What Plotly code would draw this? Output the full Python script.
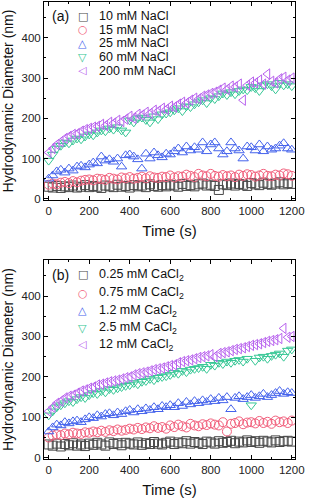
import plotly.graph_objects as go

time_s = [0, 20, 40, 60, 80, 100, 120, 140, 160, 180,
          200, 220, 240, 260, 280, 300, 320, 340, 360, 380,
          400, 420, 440, 460, 480, 500, 520, 540, 560, 580,
          600, 620, 640, 660, 680, 700, 720, 740, 760, 780,
          800, 820, 840, 860, 880, 900, 920, 940, 960, 980,
          1000, 1020, 1040, 1060, 1080, 1100, 1120, 1140, 1160, 1180,
          1200]

# Panel (a): NaCl
nacl_10 = [30, 28, 32, 27, 31, 29, 33, 28, 30, 34,
           29, 32, 30, 27, 33, 31, 29, 35, 30, 32,
           28, 34, 31, 33, 29, 36, 32, 30, 34, 31,
           35, 33, 30, 37, 32, 34, 31, 36, 38, 33,
           35, 32, 22, 36, 34, 38, 33, 37, 35, 32,
           39, 36, 34, 40, 37, 35, 38, 41, 36, 39,
           37]
nacl_15 = [35, 38, 36, 40, 42, 39, 44, 41, 45, 47,
           48, 46, 50, 49, 47, 52, 50, 48, 53, 51,
           54, 50, 52, 55, 51, 56, 53, 52, 55, 54,
           58, 53, 56, 55, 60, 57, 54, 62, 58, 56,
           62, 57, 55, 59, 56, 58, 54, 60, 57, 61,
           59, 55, 58, 62, 57, 56, 60, 58, 63, 61,
           57]
nacl_25 = [50, 58, 68, 72, 65, 75, 70, 80, 82, 78,
           85, 90, 88, 105, 95, 98, 92, 100, 80, 108,
           110, 105, 98, 75, 112, 100, 115, 108, 103, 112,
           110, 118, 125, 115, 130, 120, 128, 122, 140, 118,
           135, 140, 125, 110, 118, 140, 125, 120, 100, 130,
           128, 120, 135, 118, 130, 122, 125, 132, 138, 125,
           122]
nacl_60 = [95, 110, 125, 132, 140, 138, 145, 150, 148, 155,
           160, 158, 165, 170, 168, 175, 172, 178, 170, 165,
           195, 190, 200, 202, 196, 190, 205, 198, 210, 212,
           215, 220, 225, 218, 230, 228, 235, 240, 245, 238,
           250, 248, 255, 262, 258, 265, 260, 268, 272, 270,
           278, 275, 268, 282, 285, 280, 272, 288, 282, 285,
           280]
nacl_200 = [115, 125, 135, 142, 150, 155, 160, 162, 168, 172,
            175, 178, 180, 185, 182, 190, 188, 195, 192, 198,
            205, 200, 210, 208, 215, 212, 220, 218, 225, 222,
            230, 228, 235, 240, 238, 245, 250, 248, 255, 258,
            262, 265, 270, 275, 272, 280, 278, 285, 245, 282,
            290, 288, 295, 285, 310, 292, 288, 298, 302, 295,
            300]

# Panel (b): CaCl2
cacl_025 = [33, 30, 35, 28, 34, 31, 36, 30, 33, 29,
            35, 32, 37, 33, 30, 38, 34, 36, 31, 37,
            35, 33, 38, 32, 36, 34, 39, 35, 33, 37,
            40, 34, 38, 36, 41, 35, 39, 37, 34, 40,
            38, 35, 41, 37, 39, 42, 36, 40, 38, 43,
            39, 41, 37, 42, 40, 38, 43, 39, 41, 42,
            40]
cacl_075 = [50, 55, 58, 56, 60, 58, 62, 60, 59, 63,
            62, 65, 63, 67, 64, 68, 66, 70, 67, 69,
            72, 70, 74, 71, 75, 73, 78, 74, 76, 72,
            80, 76, 82, 78, 75, 84, 80, 78, 83, 81,
            85, 82, 80, 88, 65, 84, 86, 90, 83, 87,
            88, 85, 91, 86, 89, 84, 92, 88, 90, 86,
            92]
cacl_12 = [65, 75, 82, 80, 88, 85, 90, 92, 88, 95,
           100, 98, 105, 102, 108, 110, 105, 112, 108, 115,
           118, 112, 120, 115, 122, 118, 125, 120, 128, 125,
           130, 125, 135, 128, 138, 132, 140, 135, 142, 138,
           145, 140, 148, 142, 150, 120, 148, 152, 145, 150,
           155, 148, 152, 158, 150, 155, 160, 165, 158, 162,
           160]
cacl_25 = [105, 115, 125, 130, 135, 140, 138, 145, 150, 148,
           155, 160, 158, 165, 162, 170, 168, 172, 175, 178,
           180, 185, 182, 188, 190, 195, 192, 198, 200, 202,
           205, 210, 208, 215, 212, 218, 220, 222, 225, 220,
           230, 228, 235, 232, 238, 235, 240, 242, 238, 245,
           130, 240, 248, 250, 245, 252, 255, 258, 250, 265,
           268]
cacl_120 = [115, 125, 135, 140, 148, 152, 155, 160, 165, 168,
            172, 175, 180, 182, 185, 188, 190, 192, 195, 198,
            200, 205, 208, 210, 212, 215, 218, 220, 222, 225,
            228, 230, 235, 238, 240, 242, 245, 248, 250, 252,
            255, 250, 258, 260, 262, 265, 268, 270, 272, 275,
            278, 280, 282, 285, 288, 290, 292, 295, 320, 298,
            300]

names_a = ["10 mM NaCl", "15 mM NaCl", "25 mM NaCl", "60 mM NaCl", "200 mM NaCl"]
names_b = ["0.25 mM CaCl<sub>2</sub>", "0.75 mM CaCl<sub>2</sub>", "1.2 mM CaCl<sub>2</sub>",
           "2.5 mM CaCl<sub>2</sub>", "12 mM CaCl<sub>2</sub>"]
series_a = [nacl_10, nacl_15, nacl_25, nacl_60, nacl_200]
series_b = [cacl_025, cacl_075, cacl_12, cacl_25, cacl_120]

colors = ["#484848", "#f25f7c", "#4563ec", "#36c795", "#b862ee"]
symbols = ["square-open", "circle-open", "triangle-up-open", "triangle-down-open", "triangle-left-open"]
glyphs = ["\u25A1", "\u25CB", "\u25B3", "\u25BD", "\u25C1"]

FONT = "Liberation Sans, Arial, sans-serif"

fig = go.Figure()
for vals, nm, c, s in zip(series_a, names_a, colors, symbols):
    fig.add_trace(go.Scatter(x=time_s, y=vals, mode="markers", name=nm, showlegend=False,
                             marker=dict(symbol=s, size=9, color=c, line=dict(color=c, width=1)),
                             xaxis="x", yaxis="y"))
for vals, nm, c, s in zip(series_b, names_b, colors, symbols):
    fig.add_trace(go.Scatter(x=time_s, y=vals, mode="markers", name=nm, showlegend=False,
                             marker=dict(symbol=s, size=9, color=c, line=dict(color=c, width=1)),
                             xaxis="x2", yaxis="y2"))

axis_common = dict(showline=True, linecolor="black", linewidth=1, mirror="ticks",
                   ticks="inside", ticklen=4, tickcolor="black", showgrid=False, zeroline=False,
                   tickfont=dict(family=FONT, size=11.5, color="#222"))

xax = dict(axis_common, range=[-23, 1216], dtick=200, tick0=0,
           minor=dict(ticks="inside", dtick=100, ticklen=2, tickcolor="black"),
           title=dict(text="Time (s)", font=dict(family=FONT, size=15, color="#111"), standoff=9))
yax = dict(axis_common, range=[-3, 489], dtick=100, tick0=0,
           minor=dict(ticks="inside", dtick=50, ticklen=2, tickcolor="black"),
           title=dict(text="Hydrodynamic Diameter (nm)", font=dict(family=FONT, size=14, color="#111"),
                      standoff=5))

top_dom = [0.5667, 1.0]
bot_dom = [0.0, 0.4354]

fig.update_layout(
    width=309, height=498,
    margin=dict(l=44, r=14, t=2, b=39),
    paper_bgcolor="white", plot_bgcolor="white",
    showlegend=False,
    xaxis=dict(xax, anchor="y"),
    yaxis=dict(yax, domain=top_dom, anchor="x"),
    xaxis2=dict(xax, anchor="y2"),
    yaxis2=dict(yax, domain=bot_dom, anchor="x2"),
    font=dict(family=FONT),
)

annotations = []
rows_a = [0.929, 0.859, 0.791, 0.721, 0.653]
rows_b = [0.925, 0.834, 0.744, 0.658, 0.573]
for (xr, yr, names, rows, lab) in [("x domain", "y domain", names_a, rows_a, "(a)"),
                                   ("x2 domain", "y2 domain", names_b, rows_b, "(b)")]:
    annotations.append(dict(xref=xr, yref=yr, x=0.025, y=rows[0], xanchor="left", yanchor="middle",
                            text=lab, showarrow=False, font=dict(family=FONT, size=14, color="#111")))
    for nm, g, c, ry in zip(names, glyphs, colors, rows):
        annotations.append(dict(xref=xr, yref=yr, x=0.155, y=ry, xanchor="center", yanchor="middle",
                                text=g, showarrow=False,
                                font=dict(family="DejaVu Sans", size=11, color=c)))
        annotations.append(dict(xref=xr, yref=yr, x=0.212, y=ry, xanchor="left", yanchor="middle",
                                text=nm, showarrow=False,
                                font=dict(family=FONT, size=12.5, color="#111")))
fig.update_layout(annotations=annotations)

fig.write_html("out.html", config={"displayModeBar": False},
               post_script="document.body.style.margin='0';document.body.style.padding='0';")
